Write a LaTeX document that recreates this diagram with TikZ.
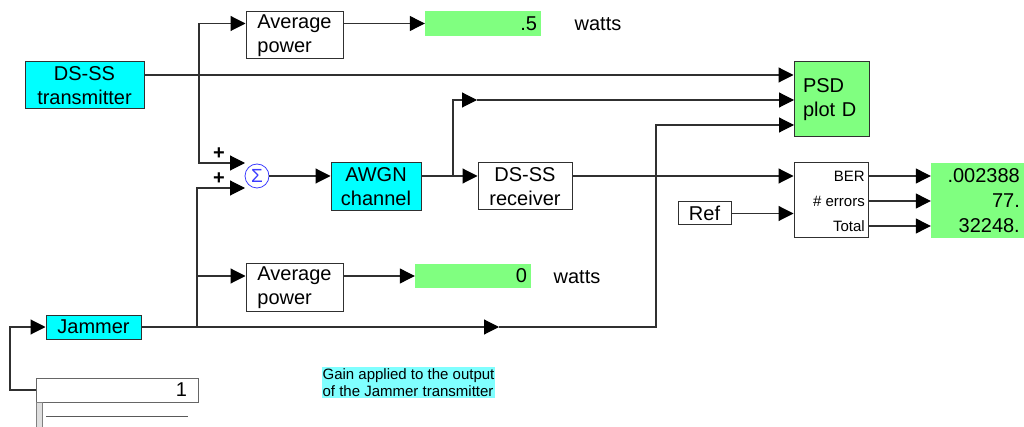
\documentclass[tikz,border=0pt]{standalone}
\usepackage{fontspec}
\setmainfont{Liberation Sans}
\usetikzlibrary{arrows.meta,positioning}
\definecolor{vuecyan}{HTML}{00FFFF}
\definecolor{vuegreen}{HTML}{80FF80}
\definecolor{vuenote}{HTML}{80FFFF}
\definecolor{vueline}{HTML}{303030}
\definecolor{vueblue}{HTML}{3C3CFF}

\begin{document}
\begin{tikzpicture}[
  x=1pt, y=-1pt,
  font=\fontsize{20}{24}\selectfont,
  block/.style={draw=vueline, line width=1pt, inner sep=0pt, align=center},
  cyanblock/.style={block, fill=vuecyan},
  whiteblock/.style={block, fill=white},
  display/.style={fill=vuegreen, inner sep=0pt, align=right},
  smalltext/.style={font=\fontsize{15}{17.5}\selectfont, inner sep=0pt},
  plussign/.style={font=\bfseries\fontsize{20}{20}\selectfont, inner sep=0pt},
  wire/.style={draw=vueline, line width=1.1pt},
  arrow/.style={wire, -{Triangle[length=15pt,width=15pt,fill=black,color=black]}}
]
  \useasboundingbox (0,0) rectangle (1024,427);

  % blocks
  \node[cyanblock, minimum width=119pt, minimum height=47pt] (tx) at (84.5,85.5) {DS-SS\\transmitter};
  \node[whiteblock, minimum width=97pt, minimum height=47pt, align=left] (avg1) at (294.5,35.5) {Average\\power};
  \node[display, minimum height=25pt, text width=108pt, inner xsep=4pt] (disp1) at (483,23.5) {.5};
  \node (watts1) at (598,24) {watts};
  \node[circle, draw=vueblue, line width=0.8pt, minimum size=24pt, inner sep=0pt,
        text=vueblue, font=\fontsize{19}{19}\selectfont] (sum) at (257,176) {Σ};
  \node[plussign] (plusa) at (219,154) {+};
  \node[plussign] (plusb) at (219,179) {+};
  \node[cyanblock, minimum width=90pt, minimum height=48pt] (awgn) at (376,187) {AWGN\\channel};
  \node[whiteblock, minimum width=94pt, minimum height=47pt] (rx) at (525,186.5) {DS-SS\\receiver};
  \node[block, fill=vuegreen, minimum height=75pt, text width=57pt, inner xsep=9pt, align=left] (psd) at (831.5,99.5) {PSD\\plot D};
  \node[whiteblock, minimum width=74pt, minimum height=75pt] (ber) at (831,200.5) {};
  \node[smalltext, anchor=east] (berlbl) at (865,176) {BER};
  \node[smalltext, anchor=east] (errlbl) at (865,201) {\# errors};
  \node[smalltext, anchor=east] (totlbl) at (865,226) {Total};
  \node[whiteblock, minimum width=53pt, minimum height=23pt] (ref) at (704.5,213.5) {Ref};
  \node[display, minimum width=93pt, minimum height=75pt] (disp3) at (977.5,200.5) {};
  \node[anchor=east, inner sep=0pt] (berval) at (1020,176) {.002388};
  \node[anchor=east, inner sep=0pt] (errval) at (1020,201) {77.};
  \node[anchor=east, inner sep=0pt] (totval) at (1020,226) {32248.};
  \node[whiteblock, minimum width=97pt, minimum height=47pt, align=left] (avg2) at (294.5,287.5) {Average\\power};
  \node[display, minimum height=24pt, text width=108pt, inner xsep=4pt] (disp2) at (473,276) {0};
  \node (watts2) at (577,277) {watts};
  \node[cyanblock, minimum width=95pt, minimum height=24pt] (jam) at (93.5,327) {Jammer};
  \node[block, draw=gray!80!black, fill=white, minimum height=24pt, text width=140pt,
        inner xsep=11pt, align=right] (gain) at (117,390) {1};
  \node[smalltext, fill=vuenote, align=left, inner sep=1pt] (note) at (408.5,382.5) {Gain applied to the output\\of the Jammer transmitter};

  % slider under the gain box
  \draw[gray, fill=gray!25, line width=0.8pt] (36,402) rectangle (42,427);
  \draw[gray!70!black, line width=0.8pt] (46,416) -- (188,416);

  % ports and corners
  \coordinate (txout) at (144,75);
  \coordinate (split1) at (199,75);
  \coordinate (sumtop) at (245,163);
  \coordinate (sumbot) at (245,188);
  \coordinate (split2) at (197,327);
  \coordinate (split3) at (453,176);
  \coordinate (psdtap) at (477,100);
  \coordinate (jammid) at (499,327);
  \coordinate (jamturn) at (656,327);
  \coordinate (psdb) at (794,100);
  \coordinate (psdc) at (794,125);
  \coordinate (gainturn) at (10,390);

  % connectors
  \draw[arrow] (txout) -- (txout -| psd.west);
  \draw[arrow] (split1) |- (avg1.west |- disp1);
  \draw[arrow] (split1) |- (sumtop);
  \draw[arrow] (avg1.east |- disp1) -- (disp1.west);
  \draw[arrow] (split2) |- (sumbot);
  \draw[arrow] (split2 |- disp2) -- (avg2.west |- disp2);
  \draw[arrow] (avg2.east |- disp2) -- (disp2.west);
  \draw[arrow] (sum.east) -- (sum -| awgn.west);
  \draw[arrow] (sum -| awgn.east) -- (sum -| rx.west);
  \draw[arrow] (split3) |- (psdtap);
  \draw[arrow] (psdtap) -- (psdb);
  \draw[arrow] (sum -| rx.east) -- (sum -| ber.west);
  \draw[arrow] (ref.east) -- (ref.east -| ber.west);
  \draw[arrow] (ber.east |- berlbl) -- (disp3.west |- berlbl);
  \draw[arrow] (ber.east |- errlbl) -- (disp3.west |- errlbl);
  \draw[arrow] (ber.east |- totlbl) -- (disp3.west |- totlbl);
  \draw[arrow] (jam.east) -- (jammid);
  \draw[arrow] (jammid) -- (jamturn) |- (psdc);
  \draw[arrow] (gain.west) -- (gainturn) |- (jam.west);
\end{tikzpicture}
\end{document}
